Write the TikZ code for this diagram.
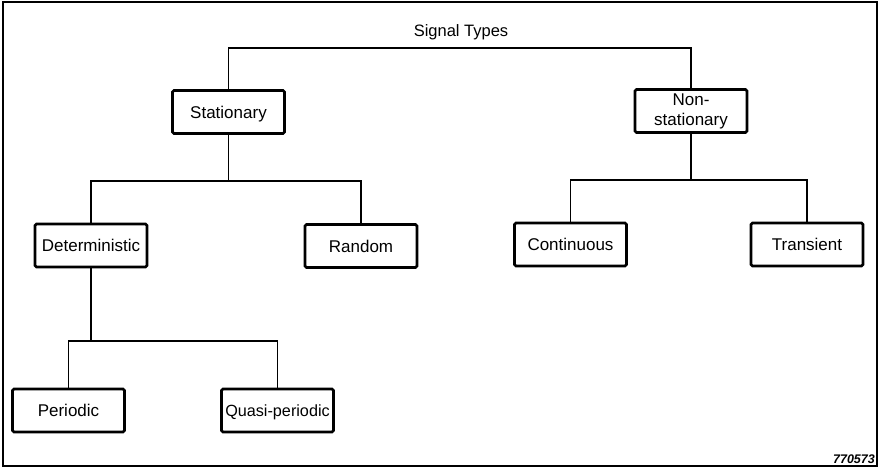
\documentclass[tikz,border=0pt]{standalone}
\usepackage{fontspec}
\setmainfont{Liberation Sans}

\begin{document}
\begin{tikzpicture}[x=1pt,y=-1pt,
		sbox/.style={draw,line width=2.6pt,rounded corners=1.5pt,minimum width=112pt,minimum height=43pt,inner sep=1pt,align=center,font=\fontsize{17}{20}\selectfont},
		sline/.style={sbox,text height=15pt,text depth=2.8pt},
		wire/.style={line width=1.5pt}]
			\useasboundingbox (0,0) rectangle (880,473);
			\draw[line width=1.5pt] (3,2) rectangle (877,466);
			\node[font=\fontsize{16.5}{19}\selectfont,text height=12pt,text depth=3.5pt] (title) at (461,32) {Signal Types};
			\node[sline] (stat) at (228.5,112) {Stationary};
			\node[sbox] (nonstat) at (691,111) {Non-\\stationary};
			\node[sline] (determ) at (91,245.5) {Deterministic};
			\node[sline] (random) at (361,246) {Random};
			\node[sline] (cont) at (570.5,244.5) {Continuous};
			\node[sline] (trans) at (807,244.5) {Transient};
			\node[sline] (periodic) at (68.5,410.5) {Periodic};
			\node[sline,font=\fontsize{16.2}{19}\selectfont] (quasi) at (277.5,410.5) {Quasi-periodic};
			\node[anchor=south east,inner sep=0pt,font=\fontsize{12.5}{13}\selectfont\bfseries\itshape] (code) at (875,464) {770573};
			\coordinate (bus0) at (0,48);
			\coordinate (bus1) at (0,181);
			\coordinate (bus2) at (0,180);
			\coordinate (bus3) at (0,341);
			\draw[wire] (stat.north) |- (nonstat.north |- bus0) -- (nonstat.north);
			\draw[wire] (stat.south) -- (stat.south |- bus1);
			\draw[wire] (determ.north) |- (random.north |- bus1) -- (random.north);
			\draw[wire] (nonstat.south) -- (nonstat.south |- bus2);
			\draw[wire] (cont.north) |- (trans.north |- bus2) -- (trans.north);
			\draw[wire] (determ.south) -- (determ.south |- bus3);
			\draw[wire] (periodic.north) |- (quasi.north |- bus3) -- (quasi.north);
		\end{tikzpicture}
\end{document}
